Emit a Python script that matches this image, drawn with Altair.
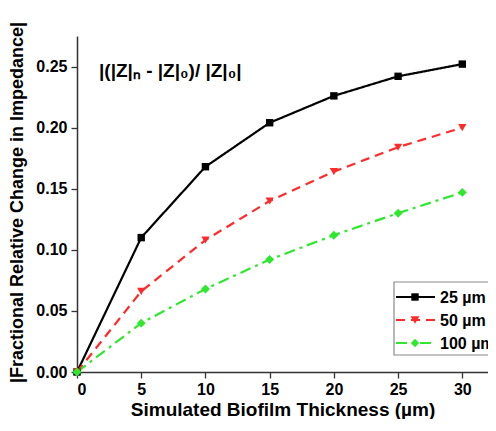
import altair as alt
import pandas as pd

thickness = [0, 5, 10, 15, 20, 25, 30]
series_names = ["25 \u00b5m", "50 \u00b5m", "100 \u00b5m"]
vals_25 = [0.0, 0.110, 0.168, 0.204, 0.226, 0.242, 0.252]
vals_50 = [0.0, 0.066, 0.108, 0.140, 0.164, 0.184, 0.200]
vals_100 = [0.0, 0.040, 0.068, 0.092, 0.112, 0.130, 0.147]
colors = ["#000000", "#ff2a2a", "#2ee82e"]
dashes = [[1, 0], [9, 6], [11, 5, 3, 5]]
shapes = ["square", "triangle-down", "diamond"]
sizes = [55, 80, 70]
formula = "|(|Z|\u2099 - |Z|\u2080)/ |Z|\u2080|"

x_ticks = [i * 2.5 for i in range(13)]
y_ticks = [i * 0.025 for i in range(12)]

rows = []
for name, vals in zip(series_names, [vals_25, vals_50, vals_100]):
    for t, v in zip(thickness, vals):
        rows.append({"series": name, "t": t, "v": v})
df = pd.DataFrame(rows)

FONT = "Liberation Sans"

xscale = alt.Scale(domain=[0, 32], nice=False, zero=False)
yscale = alt.Scale(domain=[0, 0.275], nice=False)
col_scale = alt.Scale(domain=series_names, range=colors)
dash_scale = alt.Scale(domain=series_names, range=dashes)
shape_scale = alt.Scale(domain=series_names, range=shapes)
size_scale = alt.Scale(domain=series_names, range=sizes)

x_axis = alt.Axis(
    values=x_ticks,
    labelExpr="datum.value % 5 == 0 ? datum.label : ''",
    tickSize={"condition": {"test": "datum.value % 5 == 0", "value": 6}, "value": 3},
    grid=False,
    title="Simulated Biofilm Thickness (\u00b5m)",
    titleFontSize=19,
    titlePadding=3,
    labelFontSize=16,
    labelPadding=3,
)
y_axis = alt.Axis(
    values=y_ticks,
    format=".2f",
    labelExpr="round(datum.value * 40) % 2 == 0 ? datum.label : ''",
    tickSize={"condition": {"test": "round(datum.value * 40) % 2 == 0", "value": 6}, "value": 3},
    grid=False,
    title="|Fractional Relative Change in Impedance|",
    titleFontSize=18,
    titleX=-51,
    titleY=166,
    labelFontSize=16,
    labelPadding=4,
)

base = alt.Chart(df)
lines = base.mark_line(strokeWidth=2.2).encode(
    x=alt.X("t:Q", scale=xscale, axis=x_axis),
    y=alt.Y("v:Q", scale=yscale, axis=y_axis),
    color=alt.Color("series:N", scale=col_scale, legend=None),
    strokeDash=alt.StrokeDash("series:N", scale=dash_scale, legend=None),
    detail="series:N",
)
points = base.mark_point(filled=True, opacity=1).encode(
    x="t:Q",
    y="v:Q",
    color=alt.Color("series:N", scale=col_scale, legend=None),
    shape=alt.Shape("series:N", scale=shape_scale, legend=None),
    size=alt.Size("series:N", scale=size_scale, legend=None),
)

layers = [lines, points]

layers.append(
    alt.Chart(alt.Data(values=[{"s": formula}])).mark_text(
        align="left", baseline="alphabetic", fontSize=19, fontWeight="bold",
        font=FONT, color="#000000"
    ).encode(x=alt.value(22), y=alt.value(41), text="s:N")
)

# legend box
layers.append(
    alt.Chart(alt.Data(values=[{"k": 1}])).mark_rect(
        fill="white", stroke="#8a8a8a", strokeWidth=1.2
    ).encode(x=alt.value(317), x2=alt.value(440), y=alt.value(246), y2=alt.value(319))
)
legend_y = [261, 284, 307]
for name, c, d, sh, sz, ly in zip(series_names, colors, dashes, shapes, sizes, legend_y):
    one = alt.Data(values=[{"label": name}])
    layers.append(
        alt.Chart(one).mark_rule(color=c, strokeWidth=2.2, strokeDash=d).encode(
            x=alt.value(319), x2=alt.value(358), y=alt.value(ly)
        )
    )
    layers.append(
        alt.Chart(one).mark_point(filled=True, opacity=1, color=c, shape=sh, size=sz).encode(
            x=alt.value(338), y=alt.value(ly)
        )
    )
    layers.append(
        alt.Chart(one).mark_text(
            align="left", baseline="middle", fontSize=16, fontWeight="bold",
            font=FONT, color="#000000"
        ).encode(x=alt.value(363), y=alt.value(ly + 1), text="label:N")
    )

chart = alt.layer(*layers).properties(
    width=411,
    height=336,
    autosize=alt.AutoSizeParams(type="none"),
    padding={"left": 69, "top": 28, "right": 0, "bottom": 47},
    background="white",
).configure_view(stroke=None).configure_axis(
    labelFont=FONT,
    titleFont=FONT,
    labelFontWeight="bold",
    titleFontWeight="bold",
    labelColor="#000000",
    titleColor="#000000",
    domainColor="#333333",
    tickColor="#333333",
    domainWidth=1.5,
    tickWidth=1.3,
)

chart.save("out.html", embed_options={"renderer": "svg", "actions": False})
